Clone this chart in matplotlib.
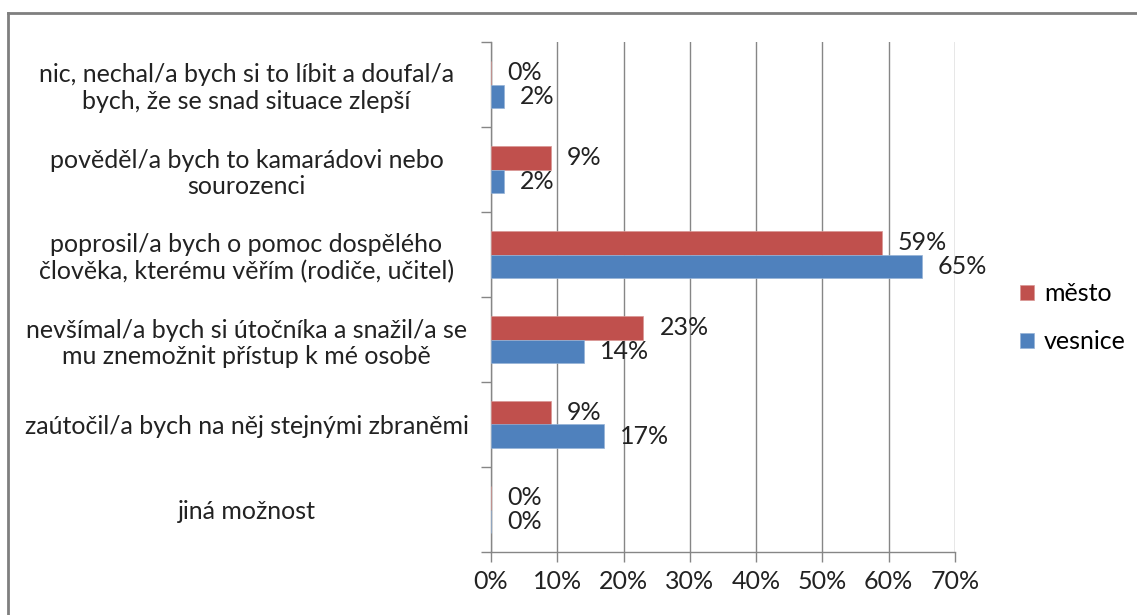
import numpy as np
import matplotlib
matplotlib.use('Agg')
import matplotlib.pyplot as plt
from matplotlib.lines import Line2D

# Data (top to bottom as shown)
kategorie = [
    'nic, nechal/a bych si to líbit a doufal/a\nbych, že se snad situace zlepší',
    'pověděl/a bych to kamarádovi nebo\nsourozenci',
    'poprosil/a bych o pomoc dospělého\nčlověka, kterému věřím (rodiče, učitel)',
    'nevšímal/a bych si útočníka a snažil/a se\nmu znemožnit přístup k mé osobě',
    'zaútočil/a bych na něj stejnými zbraněmi',
    'jiná možnost',
]
mesto = [0, 9, 59, 23, 9, 0]
vesnice = [2, 2, 65, 14, 17, 0]
xticks = [0, 10, 20, 30, 40, 50, 60, 70]

red = '#C0504D'
blue = '#4F81BD'
gray = '#868686'
fs = 18

plt.rcParams['font.family'] = ['Lato', 'DejaVu Sans']

fig = plt.figure(figsize=(11.37, 6.15), dpi=100)
ax = fig.add_axes([491 / 1137, 1 - 552 / 615, (955 - 491) / 1137, (552 - 42) / 615])

n = len(kategorie)
pos = np.arange(n)
h = 0.28
ax.barh(pos - h / 2, mesto, height=h, color=red, label='město', edgecolor='#D99694', linewidth=0.5, zorder=3)
ax.barh(pos + h / 2, vesnice, height=h, color=blue, label='vesnice', edgecolor='#95B3D7', linewidth=0.5, zorder=3)

for i in range(n):
    ax.annotate(f'{mesto[i]}%', (mesto[i], pos[i] - h / 2), xytext=(11.5, 0), textcoords='offset points',
                va='center', ha='left', fontsize=fs, color='#222222')
    ax.annotate(f'{vesnice[i]}%', (vesnice[i], pos[i] + h / 2), xytext=(11.5, 0), textcoords='offset points',
                va='center', ha='left', fontsize=fs, color='#222222')

ax.set_ylim(n - 0.5, -0.5)
ax.set_xlim(0, 70)
ax.set_xticks(xticks)
ax.set_xticklabels([f'{t}%' for t in xticks], fontsize=fs, color='#222222')
ax.set_yticks(pos)
ax.set_yticklabels(kategorie, fontsize=fs, color='#222222', ha='center', linespacing=1.2)
ax.tick_params(axis='y', length=0, pad=176)
ax.set_yticks(np.arange(n + 1) - 0.5, minor=True)
ax.tick_params(axis='y', which='minor', length=7, color=gray, width=1)
ax.tick_params(axis='x', length=7, color=gray, width=1, pad=6)

ax.xaxis.grid(True, color=gray, linewidth=1, zorder=0)
ax.set_axisbelow(True)
for s in ['top', 'right']:
    ax.spines[s].set_visible(False)
for s in ['left', 'bottom']:
    ax.spines[s].set_color(gray)
    ax.spines[s].set_linewidth(1)

leg = ax.legend(handles=[ax.patches[0], ax.patches[n]], labels=['město', 'vesnice'],
                loc='center left', bbox_to_anchor=(1.092, 0.46), frameon=False, fontsize=fs,
                handlelength=0.55, handleheight=0.55, labelspacing=1.0, handletextpad=0.4)

# outer chart border (top and left visible)
fig.add_artist(Line2D([8 / 1137, 8 / 1137], [0, 1 - 13 / 615], color='#7F7F7F', linewidth=2))
fig.add_artist(Line2D([8 / 1137, 1], [1 - 13 / 615, 1 - 13 / 615], color='#7F7F7F', linewidth=2))

fig.savefig('out.png', dpi=100)
